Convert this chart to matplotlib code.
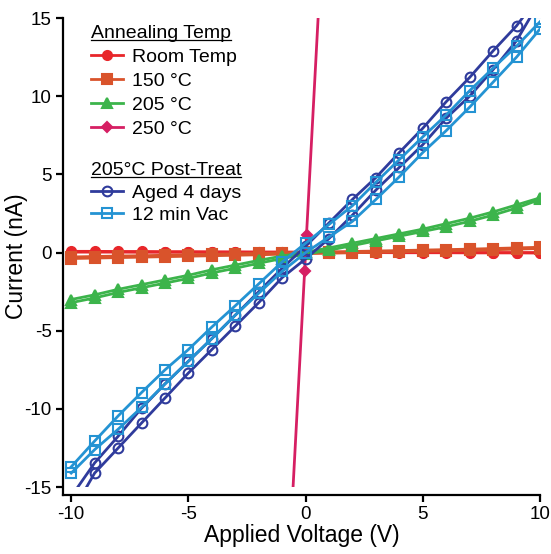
import numpy as np
import matplotlib
matplotlib.use('Agg')
import matplotlib.pyplot as plt
from matplotlib.lines import Line2D
from matplotlib.patches import Rectangle

plt.rcParams['font.family'] = ['Liberation Sans', 'DejaVu Sans']
plt.rcParams['axes.unicode_minus'] = False

# applied voltage (V), each sample swept forward and back
volts = [-10, -9, -8, -7, -6, -5, -4, -3, -2, -1, 0, 1, 2, 3, 4, 5, 6, 7, 8, 9, 10]

# current (nA)
room_a = [0.08, 0.08, 0.07, 0.07, 0.06, 0.06, 0.05, 0.05, 0.04, 0.04, 0.03,
          0.03, 0.02, 0.02, 0.02, 0.01, 0.01, 0.01, 0.0, 0.0, 0.0]
room_b = [0.03, 0.03, 0.03, 0.02, 0.02, 0.02, 0.02, 0.01, 0.01, 0.01, 0.0,
          0.0, 0.0, 0.0, -0.01, -0.01, -0.01, -0.02, -0.02, -0.02, -0.03]
t150_a = [-0.28, -0.25, -0.22, -0.2, -0.17, -0.14, -0.11, -0.08, -0.05, -0.02, 0.01,
          0.04, 0.07, 0.1, 0.13, 0.16, 0.19, 0.22, 0.26, 0.3, 0.34]
t150_b = [-0.38, -0.35, -0.32, -0.29, -0.26, -0.23, -0.2, -0.17, -0.14, -0.1, -0.07,
          -0.04, -0.01, 0.02, 0.05, 0.08, 0.11, 0.14, 0.18, 0.22, 0.26]
t205_a = [-3.0, -2.7, -2.35, -2.05, -1.75, -1.45, -1.1, -0.8, -0.5, -0.22, 0.02,
          0.3, 0.6, 0.9, 1.2, 1.5, 1.85, 2.2, 2.6, 3.05, 3.5]
t205_b = [-3.2, -2.9, -2.55, -2.25, -1.95, -1.65, -1.3, -1.0, -0.68, -0.38, -0.1,
          0.15, 0.45, 0.75, 1.05, 1.35, 1.65, 2.0, 2.4, 2.85, 3.4]
volts_250 = [-0.57, -0.04, 0.04, 0.57]
t250 = [-16.0, -1.15, 1.15, 16.0]
aged_a = [-15.6, -13.45, -11.75, -9.95, -8.4, -6.95, -5.5, -4.0, -2.5, -1.0, 0.4,
          1.9, 3.4, 4.8, 6.4, 7.95, 9.65, 11.2, 12.9, 14.5, 16.5]
aged_b = [-16.7, -14.1, -12.5, -10.9, -9.3, -7.7, -6.2, -4.7, -3.2, -1.6, -0.4,
          0.9, 2.4, 4.0, 5.45, 6.9, 8.6, 10.0, 11.7, 13.55, 16.1]
vac_a = [-13.7, -12.05, -10.45, -8.95, -7.5, -6.2, -4.76, -3.4, -2.0, -0.6, 0.6,
         1.8, 3.0, 4.5, 5.95, 7.4, 8.8, 10.35, 11.8, 13.2, 14.76]
vac_b = [-14.1, -12.6, -11.3, -9.9, -8.4, -6.95, -5.5, -4.0, -2.6, -1.2, 0.0,
         1.0, 2.0, 3.4, 4.85, 6.4, 7.8, 9.3, 10.9, 12.5, 14.3]

red = '#e8262a'
orange = '#d9532b'
green = '#3cb44b'
magenta = '#d61f63'
navy = '#2f3b9c'
sky = '#2493d3'

fig = plt.figure(figsize=(5.51, 5.54), dpi=100)
ax = fig.add_axes([0.1143, 0.1065, 0.8657, 0.861])
ax.set_xlim(-10.35, 10)
ax.set_ylim(-15.5, 15)

clip = Rectangle((-10.35, -15), 20.35, 30, transform=ax.transData)

lw = 2.0
series = [
    (volts, room_a, room_b, red, 'o', 6.5, 'Room Temp', True),
    (volts, t150_a, t150_b, orange, 's', 6.5, '150 °C', True),
    (volts, t205_a, t205_b, green, '^', 7, '205 °C', True),
    (volts_250, t250, None, magenta, 'D', 5, '250 °C', True),
    (volts, aged_a, aged_b, navy, 'o', 7, 'Aged 4 days', False),
    (volts, vac_a, vac_b, sky, 's', 7, '12 min Vac', False),
]
handles = []
for x, ya, yb, col, mk, ms, lab, filled in series:
    kw = dict(color=col, lw=lw, marker=mk, ms=ms, mfc=col if filled else 'none',
              mec=col, mew=1.5)
    h, = ax.plot(x, ya, label=lab, **kw)
    h.set_clip_path(clip)
    if yb is not None:
        h2, = ax.plot(x, yb, **kw)
        h2.set_clip_path(clip)
    handles.append(h)

for s in ['top', 'right']:
    ax.spines[s].set_visible(False)
for s in ['left', 'bottom']:
    ax.spines[s].set_linewidth(1.6)
ax.set_xticks([-10, -5, 0, 5, 10])
ax.set_yticks([-15, -10, -5, 0, 5, 10, 15])
ax.tick_params(direction='out', length=5, width=1.6, labelsize=13.5, pad=3)
ax.set_xlabel('Applied Voltage (V)', fontsize=16.5, labelpad=1)
ax.set_ylabel('Current (nA)', fontsize=16.5)
ax.yaxis.set_label_coords(-0.074, 0.5)

leg_kw = dict(loc='upper left', frameon=False, fontsize=14, title_fontsize=14,
              alignment='left', handlelength=1.65, handletextpad=0.5,
              borderpad=0, borderaxespad=0)
leg1 = ax.legend(handles[:4], [h.get_label() for h in handles[:4]],
                 title='Annealing Temp', bbox_to_anchor=(0.058, 0.985),
                 labelspacing=0.33, **leg_kw)
ax.add_artist(leg1)
leg2 = ax.legend(handles[4:], [h.get_label() for h in handles[4:]],
                 title='205°C Post-Treat', bbox_to_anchor=(0.058, 0.698),
                 labelspacing=0.25, **leg_kw)

# underline the two legend titles
fig.canvas.draw()
inv = fig.transFigure.inverted()
for leg in (leg1, leg2):
    bb = leg.get_title().get_window_extent()
    y = bb.y0 + 2.5
    p0 = inv.transform((bb.x0, y))
    p1 = inv.transform((bb.x1, y))
    fig.add_artist(Line2D([p0[0], p1[0]], [p0[1], p1[1]], color='black', lw=0.9,
                          transform=fig.transFigure))

fig.savefig('out.png', dpi=100)
